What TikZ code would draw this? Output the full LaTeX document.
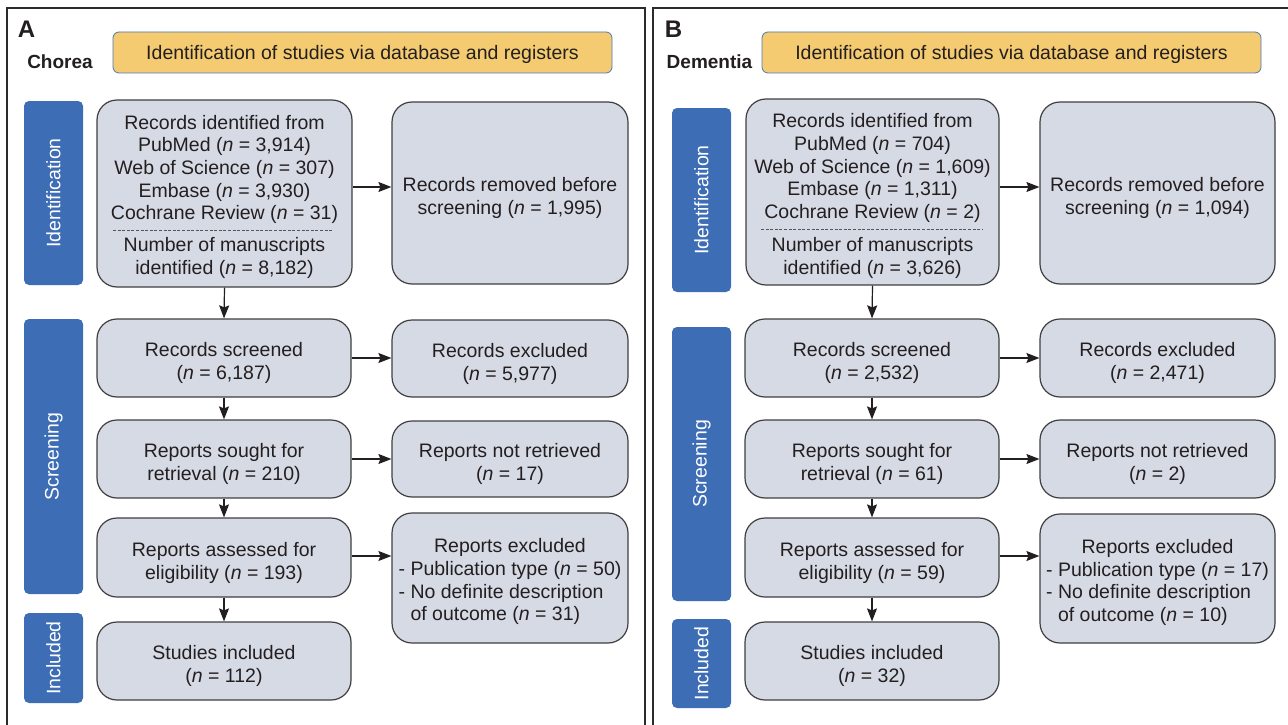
\documentclass[tikz,border=0pt]{standalone}
\usepackage{fontspec}
\setmainfont{Liberation Sans}
\usetikzlibrary{arrows.meta}
\definecolor{boxfill}{HTML}{D6DAE5}
\definecolor{boxline}{HTML}{3F3F3F}
\definecolor{barblue}{HTML}{3D6DB5}
\definecolor{hdrfill}{HTML}{F4CB70}
\definecolor{hdrline}{HTML}{4F78B8}
\definecolor{txt}{HTML}{231F20}
\definecolor{frameline}{HTML}{2B2B2B}
\definecolor{dashline}{HTML}{555555}
\newcommand\mainfs{\fontsize{19.5}{22.6}\selectfont}
\newcommand\nn{\textit{n}}
\newcommand\tp{\rule{0pt}{24.5pt}}
\begin{document}
\begin{tikzpicture}[x=1pt,y=-1pt,
  fbox/.style={draw=boxline, fill=boxfill, line width=1.2pt, rounded corners=20pt, align=center, inner sep=0pt, font=\mainfs, text=txt},
  bar/.style={fill=barblue, rounded corners=5pt, inner sep=0pt, minimum width=59pt},
  vlabel/.style={text=white, rotate=90, font=\mainfs, inner sep=0pt},
  hdr/.style={fill=hdrfill, draw=hdrline, line width=0.8pt, rounded corners=6pt, font=\mainfs, text=txt, minimum width=499pt, minimum height=41pt, inner sep=0pt, execute at begin node={\rule{0pt}{18.5pt}}},
  plain/.style={font=\mainfs, text=txt, align=center, inner sep=0pt},
  panel/.style={font=\fontsize{24}{28}\selectfont\bfseries, text=txt, inner sep=0pt},
  topic/.style={font=\fontsize{19}{22}\selectfont\bfseries, text=txt, inner sep=0pt},
  arr/.style={draw=txt, line width=1.2pt, -{Stealth[length=13pt,width=10pt,inset=2pt]}},
  sep/.style={draw=dashline, line width=0.7pt, dash pattern=on 3pt off 1.6pt},
  frame/.style={draw=frameline, line width=1.2pt}
]
\useasboundingbox (0,0) rectangle (1288,725);
\fill[white] (0,0) rectangle (1288,725);
% frames
\coordinate (fa1) at (7,725); \coordinate (fa2) at (7,8); \coordinate (fa3) at (645,8); \coordinate (fa4) at (645,725);
\draw[frame] (fa1) -- (fa2) -- (fa3) -- (fa4);
\coordinate (fb1) at (653,725); \coordinate (fb2) at (653,8); \coordinate (fb3) at (1288,8);
\draw[frame] (fb1) -- (fb2) -- (fb3);

% ================= Panel A =================
\node[panel] (labA) at (26.5,29) {A};
\node[topic] (topA) at (60,62) {Chorea};
\node[hdr] (hdrA) at (362.5,52.5) {Identification of studies via database and registers};

\node[bar, minimum height=184pt] (idBarA) at (53.5,193) {};
\node[vlabel] at (idBarA.center) {Identification};
\node[bar, minimum height=275pt] (scrBarA) at (53.5,456.5) {};
\node[vlabel] at (scrBarA.center) {Screening};
\node[bar, minimum height=90pt] (incBarA) at (53.5,658) {};
\node[vlabel] at (incBarA.center) {Included};

\node[fbox, minimum width=255pt, minimum height=187pt] (recA) at (224.5,193.5) {};
\node[plain] (recAt) at (224.5,169.5) {Records identified from\\PubMed (\nn{} = 3,914)\\Web of Science (\nn{} = 307)\\Embase (\nn{} = 3,930)\\Cochrane Review (\nn{} = 31)};
\coordinate (dA1) at (113,230); \coordinate (dA2) at (333,230);
\draw[sep] (dA1) -- (dA2);
\node[plain] (recAb) at (224.5,258) {Number of manuscripts\\identified (\nn{} = 8,182)};

\node[fbox, minimum width=236pt, minimum height=182pt] (remA) at (510,193) {\tp Records removed before\\screening (\nn{} = 1,995)};

\node[fbox, minimum width=254pt, minimum height=78pt] (scrA) at (224,358) {\tp Records screened\\(\nn{} = 6,187)};
\node[fbox, minimum width=254pt, minimum height=78pt] (soughtA) at (224,459) {\tp Reports sought for\\retrieval (\nn{} = 210)};
\node[fbox, minimum width=254pt, minimum height=79pt] (assessA) at (224,557.5) {\tp Reports assessed for\\eligibility (\nn{} = 193)};
\node[fbox, minimum width=254pt, minimum height=78pt] (studA) at (224,661) {\tp Studies included\\(\nn{} = 112)};

\node[fbox, minimum width=236pt, minimum height=77pt] (exclA) at (510,358.5) {\tp Records excluded\\(\nn{} = 5,977)};
\node[fbox, minimum width=236pt, minimum height=76pt] (notretA) at (510,459) {\tp Reports not retrieved\\(\nn{} = 17)};
\node[fbox, minimum width=236pt, minimum height=130pt] (repexA) at (510,578) {\tp Reports excluded\\\begin{tabular}[t]{@{}l@{}}- Publication type (\nn{} = 50)\\- No definite description\\\hphantom{- }of outcome (\nn{} = 31)\end{tabular}};

\draw[arr] ([yshift=6.5pt]recA.east) coordinate (ta) -- (ta -| remA.west);
\draw[arr] (recA.south) -- (scrA.north);
\draw[arr] (scrA.south) -- (soughtA.north);
\draw[arr] (soughtA.south) -- (assessA.north);
\draw[arr] (assessA.south) -- (studA.north);
\draw[arr] (scrA.east) -- (scrA.east -| exclA.west);
\draw[arr] (soughtA.east) -- (soughtA.east -| notretA.west);
\draw[arr] ([yshift=1.5pt]assessA.east) coordinate (ta2) -- (ta2 -| repexA.west);

% ================= Panel B =================
\node[panel] (labB) at (673.5,29) {B};
\node[topic] (topB) at (709.5,62) {Dementia};
\node[hdr] (hdrB) at (1011.5,52.5) {Identification of studies via database and registers};

\node[bar, minimum height=184pt] (idBarB) at (701.5,200) {};
\node[vlabel] at (idBarB.center) {Identification};
\node[bar, minimum height=274pt] (scrBarB) at (701.5,464) {};
\node[vlabel] at (scrBarB.center) {Screening};
\node[bar, minimum height=89pt] (incBarB) at (701.5,663.5) {};
\node[vlabel] at (incBarB.center) {Included};

\node[fbox, minimum width=253pt, minimum height=186pt] (recB) at (872.5,192) {};
\node[plain] (recBt) at (872.5,168) {Records identified from\\PubMed (\nn{} = 704)\\Web of Science (\nn{} = 1,609)\\Embase (\nn{} = 1,311)\\Cochrane Review (\nn{} = 2)};
\coordinate (dB1) at (761,229); \coordinate (dB2) at (982,229);
\draw[sep] (dB1) -- (dB2);
\node[plain] (recBb) at (872.5,258) {Number of manuscripts\\identified (\nn{} = 3,626)};

\node[fbox, minimum width=235pt, minimum height=182pt] (remB) at (1157.5,193) {\tp Records removed before\\screening (\nn{} = 1,094)};

\node[fbox, minimum width=254pt, minimum height=78pt] (scrB) at (872,358) {\tp Records screened\\(\nn{} = 2,532)};
\node[fbox, minimum width=254pt, minimum height=78pt] (soughtB) at (872,459) {\tp Reports sought for\\retrieval (\nn{} = 61)};
\node[fbox, minimum width=254pt, minimum height=79pt] (assessB) at (872,557.5) {\tp Reports assessed for\\eligibility (\nn{} = 59)};
\node[fbox, minimum width=254pt, minimum height=78pt] (studB) at (872,661) {\tp Studies included\\(\nn{} = 32)};

\node[fbox, minimum width=235pt, minimum height=78pt] (exclB) at (1157.5,358) {\tp Records excluded\\(\nn{} = 2,471)};
\node[fbox, minimum width=235pt, minimum height=78pt] (notretB) at (1157.5,459) {\tp Reports not retrieved\\(\nn{} = 2)};
\node[fbox, minimum width=235pt, minimum height=129pt] (repexB) at (1157.5,578.5) {\tp Reports excluded\\\begin{tabular}[t]{@{}l@{}}- Publication type (\nn{} = 17)\\- No definite description\\\hphantom{- }of outcome (\nn{} = 10)\end{tabular}};

\draw[arr] ([yshift=5pt]recB.east) coordinate (tb) -- (tb -| remB.west);
\draw[arr] (recB.south) -- (scrB.north);
\draw[arr] (scrB.south) -- (soughtB.north);
\draw[arr] (soughtB.south) -- (assessB.north);
\draw[arr] (assessB.south) -- (studB.north);
\draw[arr] (scrB.east) -- (scrB.east -| exclB.west);
\draw[arr] (soughtB.east) -- (soughtB.east -| notretB.west);
\draw[arr] ([yshift=1.5pt]assessB.east) coordinate (tb2) -- (tb2 -| repexB.west);
\end{tikzpicture}
\end{document}
